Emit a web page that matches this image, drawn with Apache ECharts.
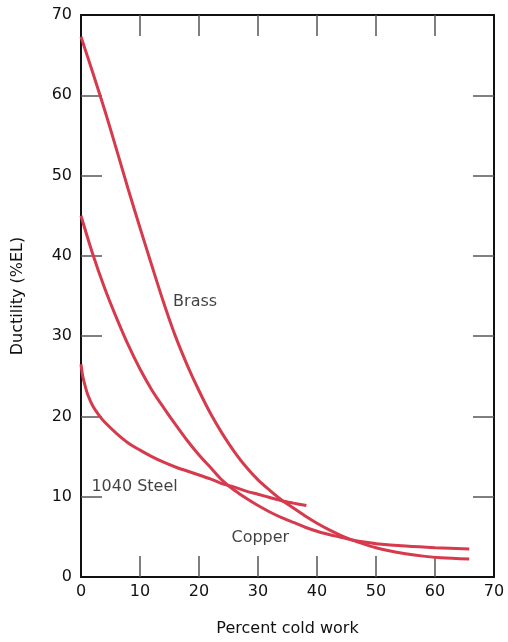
<!DOCTYPE html>
<html>
<head>
<meta charset="utf-8">
<script src="https://cdn.jsdelivr.net/npm/echarts@6/dist/echarts.min.js"></script>
<style>html,body{margin:0;padding:0;background:#fff}#c{width:508px;height:642px}</style>
</head>
<body>
<div id="c"></div>
<script>
const brassX = [0, 2, 4, 6, 8, 10, 12, 14, 16, 18, 20, 22, 24, 26, 28, 30, 32, 34, 36, 38, 40, 42, 44, 46, 48, 50, 52, 55, 58, 61, 65.8];
const brassY = [67.3, 62.8, 58.2, 53.3, 48.3, 43.5, 38.8, 34.2, 30.0, 26.4, 23.2, 20.3, 17.8, 15.6, 13.7, 12.1, 10.8, 9.6, 8.6, 7.6, 6.7, 5.9, 5.2, 4.6, 4.1, 3.65, 3.3, 2.9, 2.6, 2.4, 2.24];
const copperX = [0, 2, 4, 6, 8, 10, 12, 14, 16, 18, 20, 22, 24, 26, 28, 30, 32, 34, 36, 38, 40, 42, 44, 46, 48, 50, 55, 60, 65.8];
const copperY = [45.0, 40.2, 36.0, 32.3, 28.9, 25.9, 23.3, 21.1, 19.0, 17.0, 15.2, 13.6, 12.0, 10.8, 9.8, 8.9, 8.1, 7.4, 6.8, 6.2, 5.7, 5.3, 4.95, 4.6, 4.35, 4.15, 3.85, 3.65, 3.5];
const steelX = [0, 0.3, 0.7, 1.2, 2, 3, 4, 6, 8, 10, 12, 14, 16, 18, 20, 22, 24, 26, 28, 30, 32, 34, 36, 38.2];
const steelY = [26.5, 25.0, 23.8, 22.6, 21.3, 20.2, 19.3, 17.9, 16.7, 15.8, 15.0, 14.3, 13.7, 13.2, 12.7, 12.2, 11.6, 11.2, 10.7, 10.3, 9.9, 9.5, 9.2, 8.9];
const curveLabels = ['Brass', '1040 Steel', 'Copper'];
const labelX = [15.6, 1.75, 25.5];
const labelY = [34.3, 11.2, 4.9];
const innerTicks = [10, 20, 30, 40, 50, 60];

const pairs = (xs, ys) => xs.map((x, i) => [x, ys[i]]);
const FONT = 'DejaVu Sans';
const RED = '#d63a4c';
const TXT = '#111';
const lineStyle = { color: RED, width: 3 };

function axisBase(show) {
  return {
    type: 'value', min: 0, max: 70, interval: 10,
    axisLine: { show: true, onZero: false, lineStyle: { color: '#111', width: 2 } },
    axisTick: { show: true, inside: true, length: 21, customValues: innerTicks, lineStyle: { color: '#555', width: 1.5 } },
    splitLine: { show: false },
    axisLabel: { show: show, color: TXT, fontFamily: FONT, fontSize: 16 }
  };
}

const chart = echarts.init(document.getElementById('c'), null, { renderer: 'canvas' });
chart.setOption({
  backgroundColor: '#fff',
  animation: false,
  grid: { left: 81, right: 14, top: 15, bottom: 65 },
  xAxis: [
    Object.assign(axisBase(true), {
      position: 'bottom', name: 'Percent cold work', nameLocation: 'middle', nameGap: 44,
      nameTextStyle: { color: TXT, fontFamily: FONT, fontSize: 16 },
      axisLabel: { show: true, color: TXT, fontFamily: FONT, fontSize: 16, margin: 7 }
    }),
    Object.assign(axisBase(false), { position: 'top' })
  ],
  yAxis: [
    Object.assign(axisBase(true), {
      position: 'left', name: 'Ductility (%EL)', nameLocation: 'middle', nameGap: 55,
      nameTextStyle: { color: TXT, fontFamily: FONT, fontSize: 16 },
      axisLabel: { show: true, color: TXT, fontFamily: FONT, fontSize: 16, margin: 9 }
    }),
    Object.assign(axisBase(false), { position: 'right' })
  ],
  series: [
    { type: 'line', name: 'Brass', data: pairs(brassX, brassY), showSymbol: false, smooth: 0.3, lineStyle: lineStyle },
    { type: 'line', name: 'Copper', data: pairs(copperX, copperY), showSymbol: false, smooth: 0.3, lineStyle: lineStyle },
    { type: 'line', name: '1040 Steel', data: pairs(steelX, steelY), showSymbol: false, smooth: 0.3, lineStyle: lineStyle },
    {
      type: 'scatter', symbolSize: 0.1, itemStyle: { color: 'transparent' },
      data: curveLabels.map((n, i) => ({ name: n, value: [labelX[i], labelY[i]] })),
      label: { show: true, position: 'right', distance: 0, formatter: p => p.name, color: TXT, fontFamily: FONT, fontSize: 16, align: 'left', verticalAlign: 'middle' }
    }
  ]
});
</script>
</body>
</html>
